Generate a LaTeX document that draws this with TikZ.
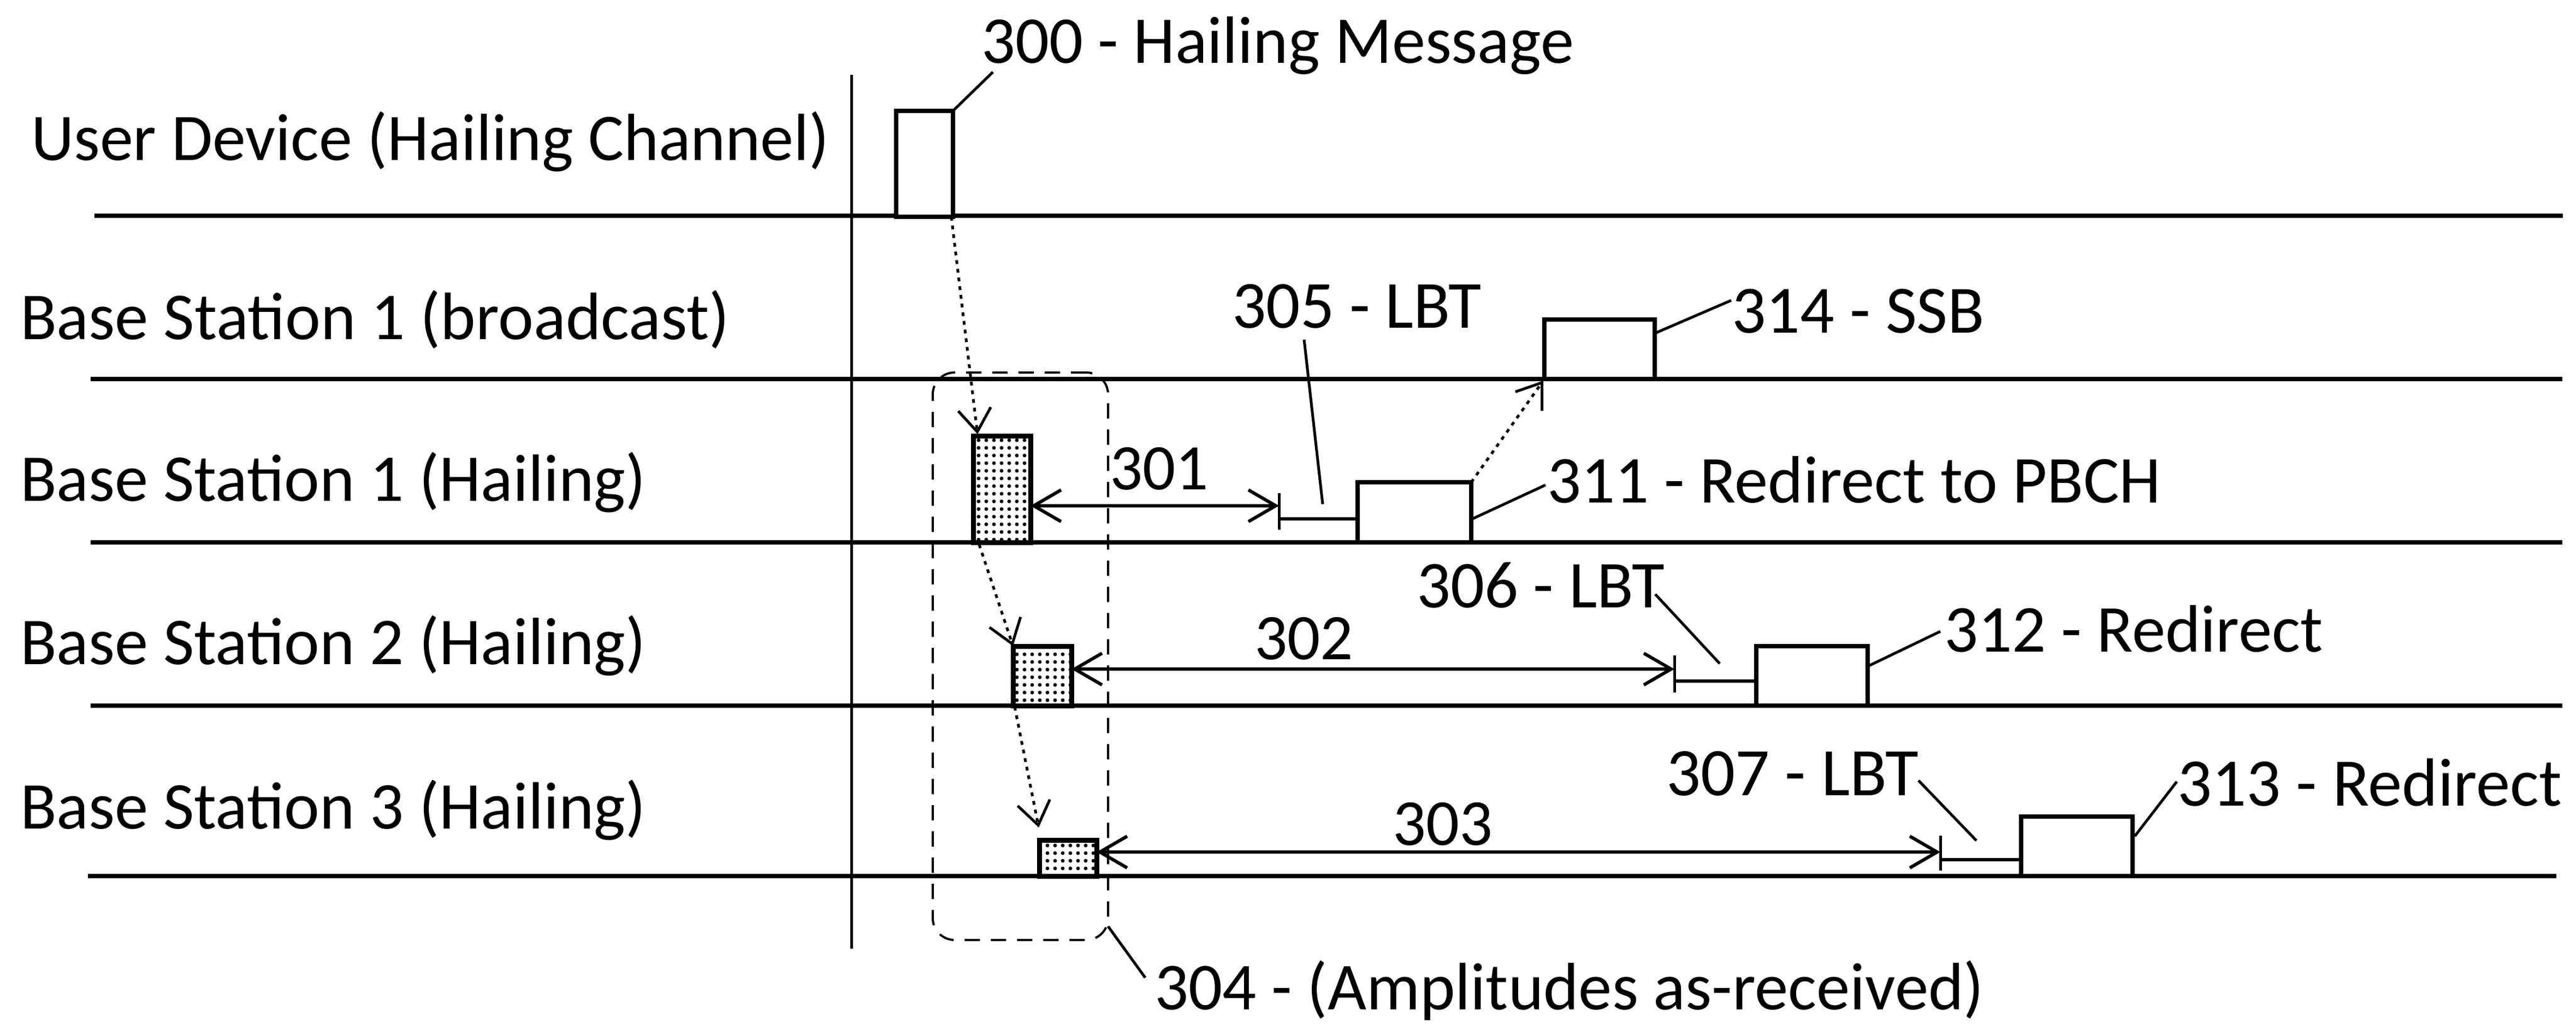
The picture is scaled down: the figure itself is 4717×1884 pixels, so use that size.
\documentclass[tikz,border=0pt]{standalone}
\usepackage{fontspec}
\setmainfont{Carlito}
\usetikzlibrary{arrows.meta,patterns.meta}
\newlength\fitwd
\newcommand\fittext[2]{\setbox0=\hbox{\fontsize{100pt}{120pt}\selectfont #2}\fitwd=\wd0\relax\pgfmathsetmacro\fitsize{#1/\fitwd*100}\fontsize{\fitsize pt}{\fitsize pt}\selectfont #2}
\begin{document}
\begin{tikzpicture}[x=1pt,y=-1pt,
  tl/.style={line width=8pt},
  axisline/.style={line width=5pt},
  msg/.style={draw,line width=8pt,fill=white,inner sep=0pt,outer sep=0pt,anchor=south west},
  shaded/.style={draw,line width=9pt,preaction={fill=white},pattern={Dots[distance=14pt,radius=3.4pt]},inner sep=0pt,outer sep=0pt,anchor=south west},
  dim/.style={line width=6pt,{Straight Barb[length=50pt,width=58pt]}-{Straight Barb[length=50pt,width=58pt]}},
  dotarrow/.style={line width=5pt,dash pattern=on 7pt off 9pt,-{Straight Barb[length=42pt,width=60pt]}},
  leader/.style={line width=5pt},
  tick/.style={line width=5pt},
  lbtline/.style={line width=6pt},
  grpbox/.style={draw,line width=4pt,dash pattern=on 28pt off 20pt,rounded corners=40pt,inner sep=0pt,outer sep=0pt,anchor=north west},
  lbl/.style={inner sep=0pt,outer sep=0pt,anchor=base west}]
\useasboundingbox (0,0) rectangle (4717,1884);

% timelines and axis
\draw[tl] (173,395) -- (4693,395);
\draw[tl] (166,694) -- (4692,694);
\draw[tl] (166,993) -- (4692,993);
\draw[tl] (166,1292) -- (4692,1292);
\draw[tl] (161,1604) -- (4681,1604);
\draw[axisline] (1559,137) -- (1559,1737);

% row labels
\node[lbl] (lud) at (57,293) {\fittext{1462}{User Device (Hailing Channel)}};
\node[lbl] (lb1b) at (37,621) {\fittext{1299}{Base Station 1 (broadcast)}};
\node[lbl] (lb1h) at (37,917) {\fittext{1146}{Base Station 1 (Hailing)}};
\node[lbl] (lb2h) at (37,1216) {\fittext{1146}{Base Station 2 (Hailing)}};
\node[lbl] (lb3h) at (37,1517) {\fittext{1146}{Base Station 3 (Hailing)}};

% group box 304
\node[grpbox,minimum width=321pt,minimum height=1039pt] (grp) at (1708,682) {};

% message boxes
\node[msg,minimum width=104pt,minimum height=194pt] (ud) at (1641,397) {};
\node[msg,minimum width=202pt,minimum height=109pt] (ssb) at (2828,694) {};
\node[msg,minimum width=208pt,minimum height=110pt] (r311) at (2486,993) {};
\node[msg,minimum width=204pt,minimum height=109pt] (r312) at (3216,1292) {};
\node[msg,minimum width=204pt,minimum height=109pt] (r313) at (3701,1604) {};
\node[shaded,minimum width=105pt,minimum height=195pt] (s1) at (1782,993) {};
\node[shaded,minimum width=107pt,minimum height=109pt] (s2) at (1855,1292) {};
\node[shaded,minimum width=105pt,minimum height=66pt] (s3) at (1903,1604) {};

% coordinates
\coordinate (a1s) at (1887,926);
\coordinate (a1e) at (2342,926);
\coordinate (a2s) at (1962,1225);
\coordinate (a2e) at (3066,1225);
\coordinate (a3s) at (2008,1560);
\coordinate (a3e) at (3553,1560);
\coordinate (lbt1) at (2486,950);
\coordinate (lbt2) at (3216,1247);
\coordinate (lbt3) at (3701,1574);

% dimension arrows with ticks and LBT gaps
\draw[dim] (a1s) -- (a1e);
\draw[tick] (2342,903) -- (2342,970);
\draw[lbtline] (2342,950) -- (lbt1);
\draw[dim] (a2s) -- (a2e);
\draw[tick] (3066,1200) -- (3066,1268);
\draw[lbtline] (3066,1247) -- (lbt2);
\draw[dim] (a3s) -- (a3e);
\draw[tick] (3553,1530) -- (3553,1594);
\draw[lbtline] (3553,1574) -- (lbt3);

% dotted propagation arrows
\draw[dotarrow] (ud.south east) ++(-3,0) -- (1790,795);
\draw[dotarrow] (1793,997) -- (s2.north west);
\draw[dotarrow] (1858,1294) -- (1902,1515);
\draw[dotarrow] (r311.north east) -- (2826,697);

% labels
\node[lbl] (t300) at (1797,115) {\fittext{1085}{300 - Hailing Message}};
\node[lbl] (t305) at (2256,600) {\fittext{457}{305 - LBT}};
\node[lbl] (t314) at (3171,609) {\fittext{463}{314 - SSB}};
\node[lbl] (t301) at (2032,896) {\fittext{181}{301}};
\node[lbl] (t311) at (2833,920) {\fittext{1124}{311 - Redirect to PBCH}};
\node[lbl] (t306) at (2594,1112) {\fittext{454}{306 - LBT}};
\node[lbl] (t302) at (2297,1207) {\fittext{181}{302}};
\node[lbl] (t312) at (3560,1193) {\fittext{693}{312 - Redirect}};
\node[lbl] (t307) at (3051,1456) {\fittext{462}{307 - LBT}};
\node[lbl] (t303) at (2550,1547) {\fittext{183}{303}};
\node[lbl] (t313) at (3987,1475) {\fittext{704}{313 - Redirect}};
\node[lbl] (t304) at (2114,1848) {\fittext{1519}{304 - (Amplitudes as-received)}};

% leaders
\draw[leader] (ud.north east) -- (1818,132);
\draw[leader] (2388,622) -- (2422,923);
\draw[leader] (2696,950) -- (2830,888);
\draw[leader] (3033,609) -- (3170,550);
\draw[leader] (3031,1088) -- (3149,1215);
\draw[leader] (3422,1219) -- (3553,1156);
\draw[leader] (3513,1429) -- (3619,1539);
\draw[leader] (3909,1531) -- (3986,1431);
\draw[leader] (2029,1696) -- (2097,1790);
\end{tikzpicture}
\end{document}
